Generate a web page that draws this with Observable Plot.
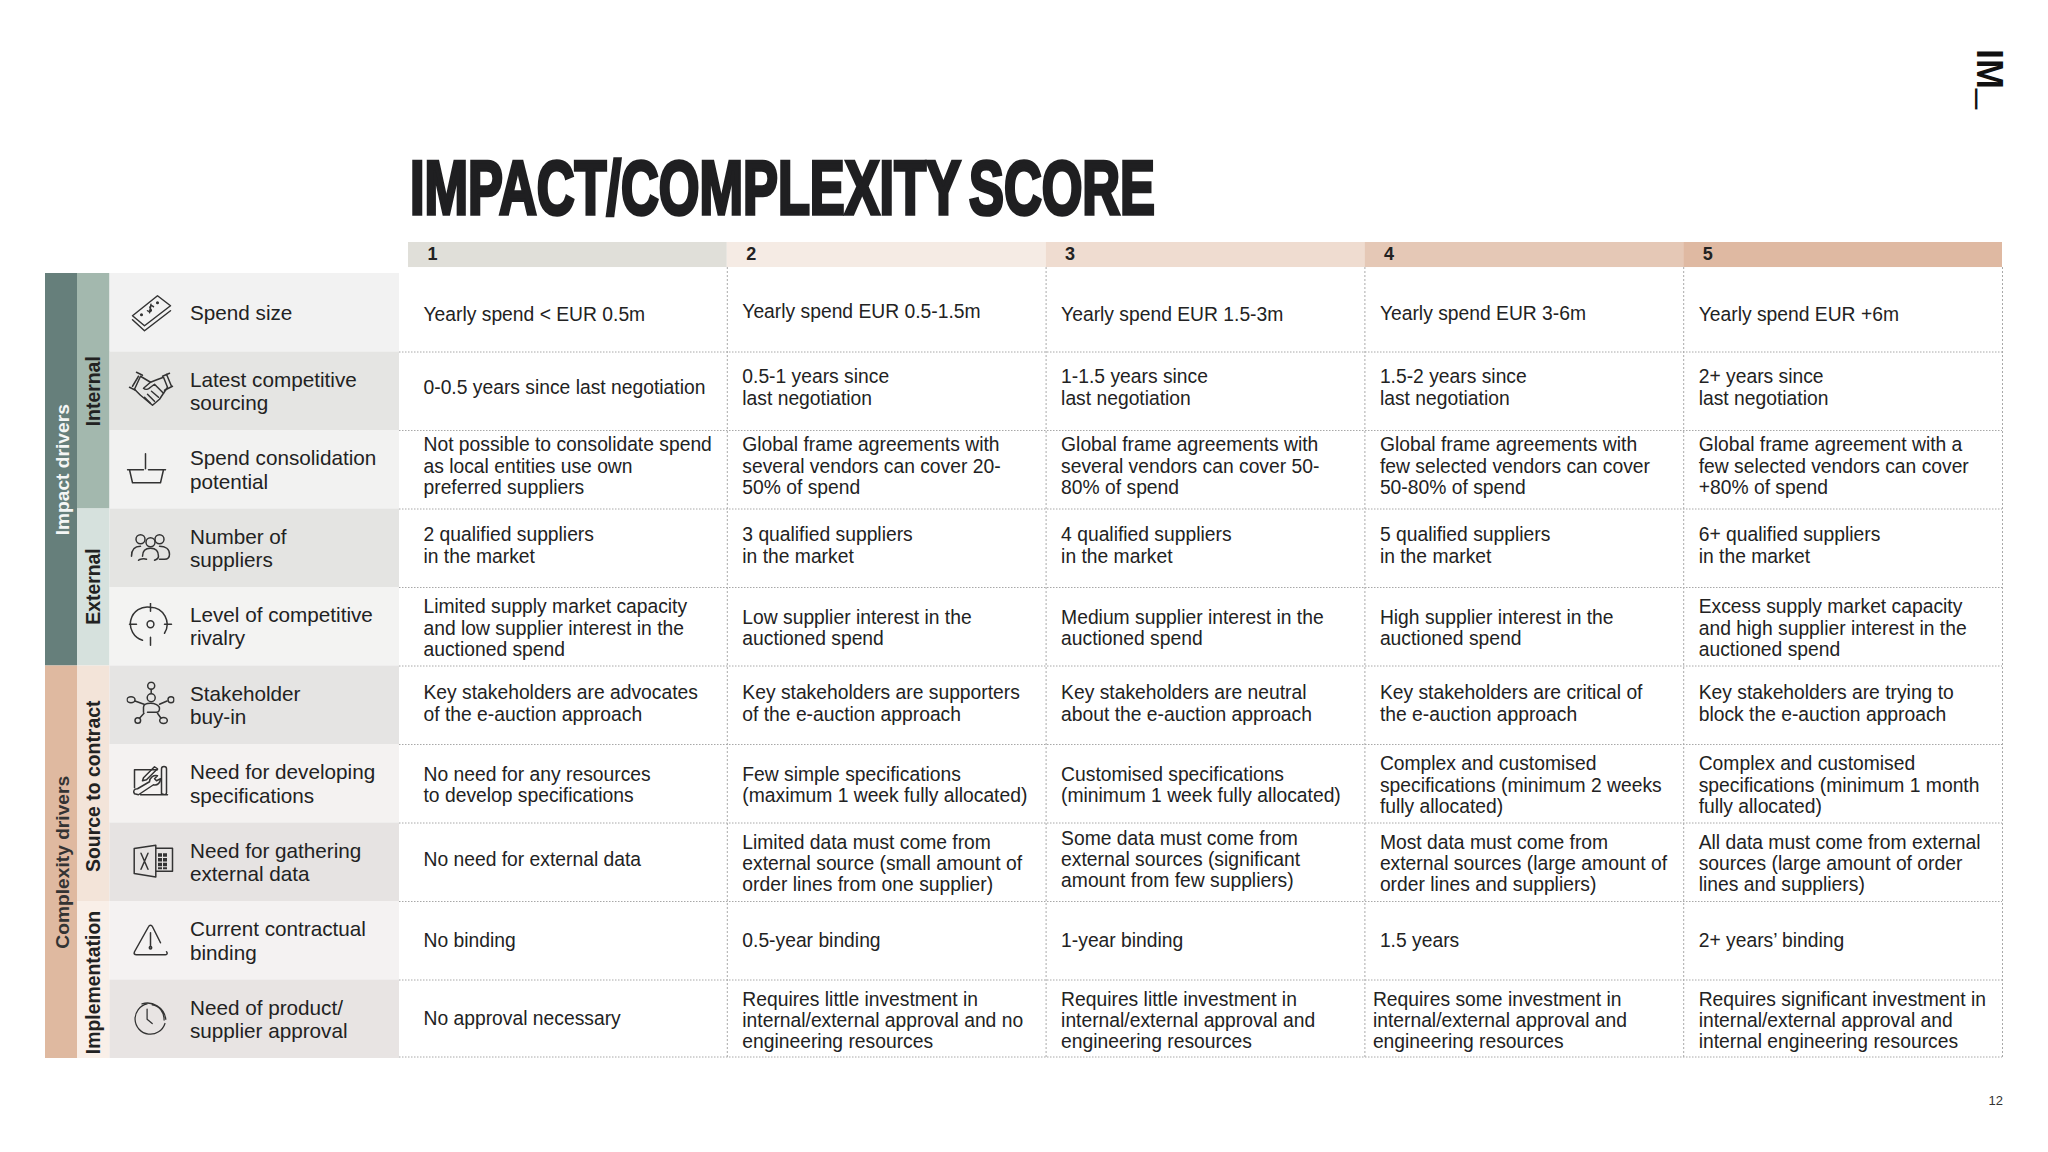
<!DOCTYPE html>
<html lang="en">
<head>
<meta charset="utf-8">
<title>Impact/Complexity score</title>
<script src="https://cdn.jsdelivr.net/npm/d3@7"></script>
<script src="https://cdn.jsdelivr.net/npm/@observablehq/plot@0.6"></script>
<style>
  html, body { margin: 0; padding: 0; background: #fff; }
  #page { position: relative; width: 2048px; height: 1152px; overflow: hidden; font-family: "Liberation Sans", Arial, sans-serif; color: #222; }
  #head { height: 232px; }
  #title { position: absolute; left: 410px; top: 150px; margin: 0; font: 700 76px/1 "Liberation Sans Narrow", "Liberation Sans", sans-serif; color: #1f1f21; white-space: nowrap; transform-origin: 0 0; -webkit-text-stroke: 3.6px #1f1f21; word-spacing: -8px; }
  #logo { position: absolute; left: 2007px; top: 49px; font: 700 36px/1 "Liberation Sans", sans-serif; color: #111; transform-origin: 0 0; transform: rotate(90deg); white-space: nowrap; }
  #logo span { font-weight: 400; position: relative; top: -5.5px; }
  #pageno { position: absolute; right: 45px; top: 1093px; font-size: 13px; color: #333; }
</style>
</head>
<body>
<div id="page">
  <div id="head">
    <h1 id="title">IMPACT/COMPLEXITY SCORE</h1>
    <div id="logo">IM<span>_</span></div>
  </div>
  <div id="chart"></div>
  <div id="pageno">12</div>
</div>
<script>
const scoreLabels = ["1", "2", "3", "4", "5"];
const groups = [["Impact drivers", 0, 5], ["Complexity drivers", 5, 10]];
const subgroups = [["Internal", 0, 3], ["External", 3, 5], ["Source to contract", 5, 8], ["Implementation", 8, 10]];
const drivers = [
  "Spend size",
  "Latest competitive\nsourcing",
  "Spend consolidation\npotential",
  "Number of\nsuppliers",
  "Level of competitive\nrivalry",
  "Stakeholder\nbuy-in",
  "Need for developing\nspecifications",
  "Need for gathering\nexternal data",
  "Current contractual\nbinding",
  "Need of product/\nsupplier approval"
];
const score1 = [
  "Yearly spend < EUR 0.5m",
  "0-0.5 years since last negotiation",
  "Not possible to consolidate spend\nas local entities use own\npreferred suppliers",
  "2 qualified suppliers\nin the market",
  "Limited supply market capacity\nand low supplier interest in the\nauctioned spend",
  "Key stakeholders are advocates\nof the e-auction approach",
  "No need for any resources\nto develop specifications",
  "No need for external data",
  "No binding",
  "No approval necessary"
];
const score2 = [
  "Yearly spend EUR 0.5-1.5m",
  "0.5-1 years since\nlast negotiation",
  "Global frame agreements with\nseveral vendors can cover 20-\n50% of spend",
  "3 qualified suppliers\nin the market",
  "Low supplier interest in the\nauctioned spend",
  "Key stakeholders are supporters\nof the e-auction approach",
  "Few simple specifications\n(maximum 1 week fully allocated)",
  "Limited data must come from\nexternal source (small amount of\norder lines from one supplier)",
  "0.5-year binding",
  "Requires little investment in\ninternal/external approval and no\nengineering resources"
];
const score3 = [
  "Yearly spend EUR 1.5-3m",
  "1-1.5 years since\nlast negotiation",
  "Global frame agreements with\nseveral vendors can cover 50-\n80% of spend",
  "4 qualified suppliers\nin the market",
  "Medium supplier interest in the\nauctioned spend",
  "Key stakeholders are neutral\nabout the e-auction approach",
  "Customised specifications\n(minimum 1 week fully allocated)",
  "Some data must come from\nexternal sources (significant\namount from few suppliers)",
  "1-year binding",
  "Requires little investment in\ninternal/external approval and\nengineering resources"
];
const score4 = [
  "Yearly spend EUR 3-6m",
  "1.5-2 years since\nlast negotiation",
  "Global frame agreements with\nfew selected vendors can cover\n50-80% of spend",
  "5 qualified suppliers\nin the market",
  "High supplier interest in the\nauctioned spend",
  "Key stakeholders are critical of\nthe e-auction approach",
  "Complex and customised\nspecifications (minimum 2 weeks\nfully allocated)",
  "Most data must come from\nexternal sources (large amount of\norder lines and suppliers)",
  "1.5 years",
  "Requires some investment in\ninternal/external approval and\nengineering resources"
];
const score5 = [
  "Yearly spend EUR +6m",
  "2+ years since\nlast negotiation",
  "Global frame agreement with a\nfew selected vendors can cover\n+80% of spend",
  "6+ qualified suppliers\nin the market",
  "Excess supply market capacity\nand high supplier interest in the\nauctioned spend",
  "Key stakeholders are trying to\nblock the e-auction approach",
  "Complex and customised\nspecifications (minimum 1 month\nfully allocated)",
  "All data must come from external\nsources (large amount of order\nlines and suppliers)",
  "2+ years’ binding",
  "Requires significant investment in\ninternal/external approval and\ninternal engineering resources"
];
const scoreColumns = [score1, score2, score3, score4, score5];

// Line-art icons, one per driver (48 x 48 artwork centred on the row)
const iconPaths = [
  // money
  `<path d="M31 7 44 17 18 37 6 27Z"/><path d="M6 31 18 42 44 22"/><path d="M27 18c-2-2-5 0-3 2s0 4-3 2M24.500 15.500 23 24"/><circle cx="31" cy="14" r=".8"/><circle cx="15" cy="26" r=".8"/>`,
  // handshake
  `<path d="M6 19 12 9M3 20 9 23M10 5 16 8M40 7l5 12M36 9 43 6M38 23 46 19"/><path d="M14 9 24 15 29 13 37 10 41 20 33 32 26 38 14 28 8 22Z"/><path d="M24 15 17 21c2 2 5 1 7-1l4-3 9 9M21 27 28 34M18 30 24 36M25 24 32 30"/>`,
  // basket
  `<g transform="translate(-4 0)"><path d="M23 8V23M5 24H21M26 24H43M7 24 10 37H38L41 24"/></g>`,
  // people
  `<circle cx="14" cy="15" r="4.500"/><circle cx="24" cy="18" r="4.500"/><circle cx="33" cy="15" r="4.500"/><path d="M5 32c0-7 4-10 9-10M20 35c-3-1-7 0-8 1M16 32c0-6 3-8 8-8s8 3 8 8c0 3-2 3-4 4M33 22c6 0 10 3 10 8 0 4-2 5-5 5h-5"/>`,
  // target
  `<g transform="translate(0 -2.500)"><circle cx="24" cy="24" r="3.400"/><path d="M16 40A17 17 0 0 1 24 7 17 17 0 0 1 38 33M24 3V11M24 37V45M3 24H10M38 24H45"/></g>`,
  // stakeholder
  `<circle cx="24.700" cy="4.500" r="3.500"/><path d="M24.700 8V12"/><circle cx="24.700" cy="16.500" r="4"/><ellipse cx="4.500" cy="18.500" rx="4" ry="3"/><circle cx="44.500" cy="18.500" r="3"/><circle cx="11.300" cy="39.300" r="2.800"/><ellipse cx="37" cy="39.300" rx="3.800" ry="3"/><path d="M8.500 19.700 17.500 23M40.500 19.700 33 23M17 31V26c0-3 3-4 7-4s9 2 9 5c0 3-1 4-3 4H21M13 37 17.500 32M34.500 37 31 32"/>`,
  // specification
  `<g transform="translate(0 -4)"><path d="M31 14H8V32M14 39H41M35 38V13c0-3 5-3 5 0V37c0 2-2 2.500-5 1"/><path d="M17 22 28 11 31 13 20 24 16 25Z"/><path d="M8 38 12 39 27 29C31 30 34 27 34 23L30 25 28 23 31 20C27 19 23 22 23 26L11 33C8 33 6 35 8 38Z"/></g>`,
  // spreadsheet
  `<g transform="translate(1 -2)"><path d="M6.700 12.300 28.300 9V40.700L6.700 37.300ZM28.300 12H45V35H28.300"/><path d="M13.500 17 20.500 33M20.500 17 13.500 33"/><path stroke-width="4" stroke-linecap="butt" stroke-dasharray="3.500 1.200" d="M32.500 17V33M37.500 17V33"/></g>`,
  // warning
  `<path d="M34 26 26 10C25 8 23 8 22 10L8 35C7 37 8 38 10 38H39C41 38 41 36 40 35"/><path d="M24 16V30"/><circle cx="24" cy="31" r="1.200"/>`,
  // clock
  `<g transform="translate(24 24) scale(.85) translate(-24 -24)"><path d="M20 6A18 18 0 1 0 41 29"/><path d="M14 6c12-4 26 4 28 18M26 7c8 1 14 8 14 18"/><path d="M20 12V24L26 29"/></g>`
];
const iconSrc = body => "data:image/svg+xml," + encodeURIComponent(
  `<svg xmlns="http://www.w3.org/2000/svg" viewBox="0 0 48 48" width="48" height="48" fill="none" stroke="#333" stroke-width="1.500" stroke-linecap="round" stroke-linejoin="round">${body}</svg>`);

// ---- styling and layout -----------------------------------------------------
const FONT = "Liberation Sans, Arial, sans-serif";
const headerFill = ["#e0dfd9", "#f5ebe4", "#efdcd0", "#e5c8b6", "#dfb9a2"];
const groupFill = ["#667f7b", "#dfb9a0"];
const groupText = ["#f4f6f5", "#333"];
const subFill = ["#a3b8ae", "#d6e1dd", "#f3e4d9", "#f9efe8"];
const subDy = [0, -1, 2.5, 2.5];
const driverFill = ["#f2f2f2", "#e5e5e3", "#f2f2f1", "#e4e4e2", "#f3f3f2", "#e5e4e3", "#f4f2f1", "#e6e3e2", "#f4f2f2", "#e8e4e3"];
// per-cell vertical nudges of the text, rows by columns
const cellDy = [
  [1, -2, 1, 0, 1],
  [-4, -4, -4, -4, -4],
  [-4, -4, -4, -4, -4],
  [-3, -3, -3, -3, -3],
  [1, 1, 1, 1, 1],
  [-2, -2, -2, -2, -2],
  [1, 1, 1, 1, 1],
  [-3, 1, -3, 1, 1],
  [-1, -1, -1, -1, -1],
  [-1, 1, 1, 1, 1]
];
const driverDy = [0, -0.5, -0.5, -0.5, -1, -0.5, -0.5, -0.5, -0.5, -0.5];

const rows = drivers.map((d, i) => ({i, d, icon: iconSrc(iconPaths[i])}));
const cells = scoreColumns.flatMap((col, c) => col.map((t, r) => ({c, r, t})));

const plot = Plot.plot({
  width: 2048,
  height: 850,
  margin: 0,
  style: {background: "transparent", fontFamily: FONT, overflow: "visible"},
  // x: -3 group band, -2 subgroup band, -1..0 driver column, 1..6 score columns
  x: {type: "linear", domain: [-3, -2, -1, 0, 1, 6], range: [45, 77, 109.5, 399, 408, 2002], axis: null},
  // y: row number 0..10; the score header sits above row 0
  y: {type: "linear", domain: [-0.395, 0, 10], range: [10, 41, 826], axis: null},
  marks: [
    ...scoreLabels.map((s, c) => Plot.rect([s], {x1: c + 1, x2: c + 2, y1: -0.395, y2: -0.076, fill: headerFill[c]})),
    ...groups.map((g, k) => Plot.rect([g], {x1: -3, x2: -2, y1: g[1], y2: g[2], fill: groupFill[k]})),
    ...subgroups.map((g, k) => Plot.rect([g], {x1: -2, x2: -1, y1: g[1], y2: g[2], fill: subFill[k]})),
    ...rows.map(r => Plot.rect([r], {x1: -1, x2: 0, y1: r.i, y2: r.i + 1, fill: driverFill[r.i]})),

    Plot.ruleY(d3.range(1, 10), {x1: 0, x2: 6, y: d => d, stroke: "#a8a8a8", strokeWidth: 1, strokeDasharray: "1.5 1.5"}),
    Plot.ruleY([10], {x1: 0, x2: 6, y: d => d, dy: -1.5, stroke: "#a8a8a8", strokeWidth: 1, strokeDasharray: "1.5 1.5"}),
    Plot.ruleX(d3.range(2, 7), {x: d => d, y1: -0.076, y2: 10, stroke: "#a8a8a8", strokeWidth: 1, strokeDasharray: "2 2"}),

    Plot.text(scoreLabels, {x: (d, i) => i + 1, y: -0.235, text: d => d, dx: 19, dy: -1, textAnchor: "start", fontWeight: 700, fontSize: 18, fill: "#222"}),
    ...groups.map((g, k) => Plot.text([g], {x: -2.5, y: d => (d[1] + d[2]) / 2, text: d => d[0], dx: 1, rotate: -90, fontWeight: 700, fontSize: 19.2, fill: groupText[k]})),
    ...subgroups.map((g, k) => Plot.text([g], {x: -1.5, y: d => (d[1] + d[2]) / 2, text: d => d[0], dy: subDy[k], rotate: -90, fontWeight: 700, fontSize: 19.4, fill: "#222"})),

    Plot.image(rows, {x: -1, y: d => d.i + 0.5, src: d => d.icon, width: 48, height: 48, dx: 40.5}),
    ...rows.map(r => Plot.text([r], {x: -1, y: r.i + 0.5, text: d => d.d, dx: 80, dy: driverDy[r.i], textAnchor: "start", fontSize: 20.7, lineHeight: 1.14, fill: "#222"})),
    ...cells.map(k => Plot.text([k], {x: k.c + 1, y: k.r + 0.5, text: d => d.t, dx: (k.c === 3 && k.r === 9) ? 8 : 15, dy: cellDy[k.r][k.c], textAnchor: "start", fontSize: 19.3, lineHeight: 1.1, fill: "#222"}))
  ]
});
document.getElementById("chart").appendChild(plot);

// fit the display title to its printed width
const title = document.getElementById("title");
title.style.transform = `scaleX(${745 / title.getBoundingClientRect().width})`;
</script>
</body>
</html>
